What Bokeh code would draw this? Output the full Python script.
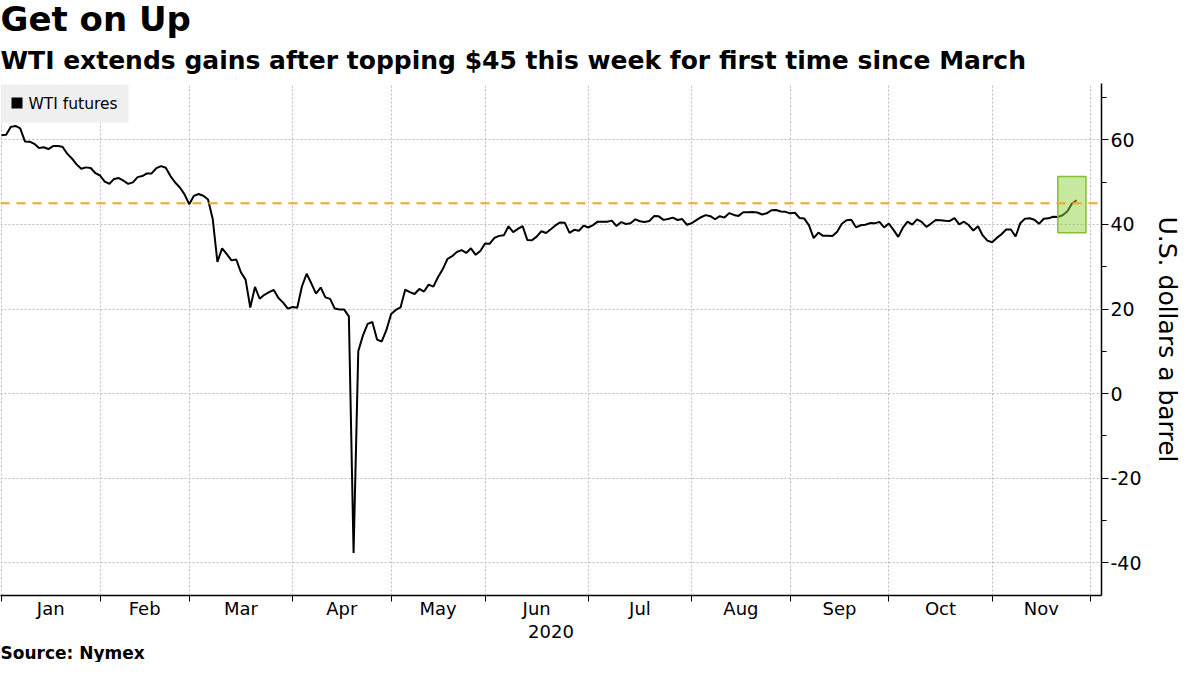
import numpy as np
from bokeh.plotting import figure
from bokeh.models import (Range1d, FixedTicker, Span, BoxAnnotation, Title, Label,
                          CustomJSTickFormatter, PrintfTickFormatter, ColumnDataSource)
from bokeh.embed import file_html
from bokeh.resources import INLINE

# ---------------- data ----------------
title_text = "Get on Up"
subtitle_text = "WTI extends gains after topping $45 this week for first time since March"
source_text = "Source: Nymex"
series_name = "WTI futures"
y_label = "U.S. dollars a barrel"

dates = [
    "2019-12-31",
    "2020-01-02", "2020-01-03", "2020-01-06", "2020-01-07", "2020-01-08", "2020-01-09", "2020-01-10",
    "2020-01-13", "2020-01-14", "2020-01-15", "2020-01-16", "2020-01-17", "2020-01-21", "2020-01-22",
    "2020-01-23", "2020-01-24", "2020-01-27", "2020-01-28", "2020-01-29", "2020-01-30", "2020-01-31",
    "2020-02-03", "2020-02-04", "2020-02-05", "2020-02-06", "2020-02-07", "2020-02-10", "2020-02-11",
    "2020-02-12", "2020-02-13", "2020-02-14", "2020-02-18", "2020-02-19", "2020-02-20", "2020-02-21",
    "2020-02-24", "2020-02-25", "2020-02-26", "2020-02-27", "2020-02-28",
    "2020-03-02", "2020-03-03", "2020-03-04", "2020-03-05", "2020-03-06", "2020-03-09", "2020-03-10",
    "2020-03-11", "2020-03-12", "2020-03-13", "2020-03-16", "2020-03-17", "2020-03-18", "2020-03-19",
    "2020-03-20", "2020-03-23", "2020-03-24", "2020-03-25", "2020-03-26", "2020-03-27", "2020-03-30",
    "2020-03-31",
    "2020-04-01", "2020-04-02", "2020-04-03", "2020-04-06", "2020-04-07", "2020-04-08", "2020-04-09",
    "2020-04-13", "2020-04-14", "2020-04-15", "2020-04-16", "2020-04-17", "2020-04-20", "2020-04-21",
    "2020-04-22", "2020-04-23", "2020-04-24", "2020-04-27", "2020-04-28", "2020-04-29", "2020-04-30",
    "2020-05-01", "2020-05-04", "2020-05-05", "2020-05-06", "2020-05-07", "2020-05-08", "2020-05-11",
    "2020-05-12", "2020-05-13", "2020-05-14", "2020-05-15", "2020-05-18", "2020-05-19", "2020-05-20",
    "2020-05-21", "2020-05-22", "2020-05-26", "2020-05-27", "2020-05-28", "2020-05-29",
    "2020-06-01", "2020-06-02", "2020-06-03", "2020-06-04", "2020-06-05", "2020-06-08", "2020-06-09",
    "2020-06-10", "2020-06-11", "2020-06-12", "2020-06-15", "2020-06-16", "2020-06-17", "2020-06-18",
    "2020-06-19", "2020-06-22", "2020-06-23", "2020-06-24", "2020-06-25", "2020-06-26", "2020-06-29",
    "2020-06-30",
    "2020-07-01", "2020-07-02", "2020-07-06", "2020-07-07", "2020-07-08", "2020-07-09", "2020-07-10",
    "2020-07-13", "2020-07-14", "2020-07-15", "2020-07-16", "2020-07-17", "2020-07-20", "2020-07-21",
    "2020-07-22", "2020-07-23", "2020-07-24", "2020-07-27", "2020-07-28", "2020-07-29", "2020-07-30",
    "2020-07-31",
    "2020-08-03", "2020-08-04", "2020-08-05", "2020-08-06", "2020-08-07", "2020-08-10", "2020-08-11",
    "2020-08-12", "2020-08-13", "2020-08-14", "2020-08-17", "2020-08-18", "2020-08-19", "2020-08-20",
    "2020-08-21", "2020-08-24", "2020-08-25", "2020-08-26", "2020-08-27", "2020-08-28", "2020-08-31",
    "2020-09-01", "2020-09-02", "2020-09-03", "2020-09-04", "2020-09-08", "2020-09-09", "2020-09-10",
    "2020-09-11", "2020-09-14", "2020-09-15", "2020-09-16", "2020-09-17", "2020-09-18", "2020-09-21",
    "2020-09-22", "2020-09-23", "2020-09-24", "2020-09-25", "2020-09-28", "2020-09-29", "2020-09-30",
    "2020-10-01", "2020-10-02", "2020-10-05", "2020-10-06", "2020-10-07", "2020-10-08", "2020-10-09",
    "2020-10-12", "2020-10-13", "2020-10-14", "2020-10-15", "2020-10-16", "2020-10-19", "2020-10-20",
    "2020-10-21", "2020-10-22", "2020-10-23", "2020-10-26", "2020-10-27", "2020-10-28", "2020-10-29",
    "2020-10-30",
    "2020-11-02", "2020-11-03", "2020-11-04", "2020-11-05", "2020-11-06", "2020-11-09", "2020-11-10",
    "2020-11-11", "2020-11-12", "2020-11-13", "2020-11-16", "2020-11-17", "2020-11-18", "2020-11-19",
    "2020-11-20", "2020-11-23", "2020-11-24", "2020-11-25",
]

prices = [
    61.06,
    61.18, 63.05, 63.27, 62.70, 59.61, 59.56, 59.04,
    58.08, 58.23, 57.81, 58.52, 58.54, 58.34, 56.74,
    55.59, 54.19, 53.14, 53.48, 53.33, 52.14, 51.56,
    50.11, 49.61, 50.75, 50.95, 50.32, 49.57, 49.94,
    51.17, 51.42, 52.05, 52.05, 53.29, 53.78, 53.38,
    51.43, 49.90, 48.73, 47.09, 44.76,
    46.75, 47.18, 46.78, 45.90, 41.28, 31.13, 34.36,
    32.98, 31.50, 31.73, 28.70, 26.95, 20.37, 25.22,
    22.43, 23.36, 24.01, 24.49, 22.60, 21.51, 20.09,
    20.48,
    20.31, 25.32, 28.34, 26.08, 23.63, 25.09, 22.76,
    22.41, 20.11, 19.87, 19.87, 18.27, -37.63, 10.01,
    13.78, 16.50, 16.94, 12.78, 12.34, 15.06, 18.84,
    19.78, 20.39, 24.56, 23.99, 23.55, 24.74, 24.14,
    25.78, 25.29, 27.56, 29.43, 31.82, 32.50, 33.49,
    33.92, 33.25, 34.35, 32.81, 33.71, 35.49,
    35.44, 36.81, 37.29, 37.41, 39.55, 38.19, 38.94,
    39.60, 36.34, 36.26, 37.12, 38.38, 37.96, 38.84,
    39.75, 40.46, 40.37, 38.01, 38.72, 38.49, 39.70,
    39.27,
    39.82, 40.65, 40.63, 40.62, 40.90, 39.62, 40.55,
    40.10, 40.29, 41.20, 40.75, 40.59, 40.81, 41.96,
    41.90, 41.07, 41.29, 41.60, 41.04, 41.27, 39.92,
    40.27,
    41.01, 41.70, 42.19, 41.95, 41.22, 41.94, 41.61,
    42.67, 42.24, 42.01, 42.89, 42.89, 42.93, 42.82,
    42.34, 42.62, 43.35, 43.39, 43.04, 42.97, 42.61,
    42.76, 41.51, 41.37, 39.77, 36.76, 38.05, 37.30,
    37.33, 37.26, 38.28, 40.16, 40.97, 41.11, 39.31,
    39.80, 39.93, 40.31, 40.25, 40.60, 39.29, 40.22,
    38.72, 37.05, 39.22, 40.67, 39.95, 41.19, 40.60,
    39.43, 40.20, 41.04, 40.96, 40.88, 40.83, 41.46,
    40.03, 40.64, 39.85, 38.56, 39.57, 37.39, 36.17,
    35.79,
    36.81, 37.66, 38.79, 38.79, 37.14, 40.29, 41.36,
    41.45, 41.12, 40.13, 41.34, 41.43, 41.82, 41.74,
    42.15, 43.06, 44.91, 45.71,
]

month_labels = ["Jan", "Feb", "Mar", "Apr", "May", "Jun", "Jul", "Aug", "Sep", "Oct", "Nov"]
year_label = "2020"
y_ticks = [-40, -20, 0, 20, 40, 60]
y_minor = [-30, -10, 10, 30, 50, 70]
threshold = 45
highlight_from = "2020-11-19"
highlight_low, highlight_high = 38, 51.3
axis_end = "2020-12-01"

# ---------------- derived positions (trading-day axis) ----------------
d = np.array(dates, dtype="datetime64[D]")
x = np.arange(len(d), dtype=float)
mon = d.astype("datetime64[M]")
umon = np.unique(mon)
# boundary = last trading day of each month; last (incomplete) month projected with weekdays
bounds = [float(np.where(mon == m)[0][-1]) for m in umon[:-1]]
bounds.append(float(x[-1] + np.busday_count(d[-1] + 1, np.datetime64(axis_end))))
mids = [(a + b) / 2 for a, b in zip(bounds[:-1], bounds[1:])]

hl_left = float(np.where(d == np.datetime64(highlight_from))[0][0])
hl_right = x[-1] + 2

FONT = "DejaVu Sans"
FRAME_H = 512

p = figure(width=1184, frame_height=FRAME_H, x_range=Range1d(-0.2, bounds[-1] + 2.3),
           y_range=Range1d(-47.7, 73.3), y_axis_location="right",
           output_backend="svg", toolbar_location=None,
           min_border_left=0, min_border_top=0, min_border_bottom=0, min_border_right=0)
p.outline_line_color = None
p.background_fill_color = "white"
p.border_fill_color = "white"

# titles
p.add_layout(Title(text=subtitle_text, text_font=FONT, text_font_style="bold",
                   text_font_size="25px", text_color="black", standoff=17), "above")
p.add_layout(Title(text=title_text, text_font=FONT, text_font_style="bold",
                   text_font_size="34px", text_color="black", standoff=-7), "above")
p.add_layout(Title(text=source_text, text_font=FONT, text_font_style="bold",
                   text_font_size="17px", text_color="black", standoff=0), "below")

# x axis
xa = p.xaxis[0]
xa.ticker = FixedTicker(ticks=mids, minor_ticks=bounds)
xa.formatter = CustomJSTickFormatter(args=dict(pos=mids, names=month_labels), code="""
    let best = 0;
    for (let i = 0; i < pos.length; i++) {
        if (Math.abs(pos[i] - tick) < Math.abs(pos[best] - tick)) best = i;
    }
    return names[best];
""")
xa.major_tick_out = 0
xa.major_tick_in = 0
xa.minor_tick_out = 6
xa.minor_tick_in = 0
xa.minor_tick_line_color = "black"
xa.axis_line_color = "black"
xa.axis_line_width = 1.5
xa.major_label_text_font = FONT
xa.major_label_text_font_size = "18px"
xa.major_label_text_color = "black"
xa.major_label_standoff = -4
xa.axis_label = year_label
xa.axis_label_text_font = FONT
xa.axis_label_text_font_size = "18px"
xa.axis_label_text_font_style = "normal"
xa.axis_label_text_color = "black"
xa.axis_label_standoff = 3

# y axis (right)
ya = p.yaxis[0]
ya.ticker = FixedTicker(ticks=y_ticks, minor_ticks=y_minor)
ya.formatter = PrintfTickFormatter(format="%d")
ya.major_tick_out = 7
ya.major_tick_in = 0
ya.minor_tick_out = 5
ya.minor_tick_in = 0
ya.major_tick_line_color = "black"
ya.minor_tick_line_color = "black"
ya.axis_line_color = "black"
ya.axis_line_width = 1.5
ya.major_label_text_font = FONT
ya.major_label_text_font_size = "19px"
ya.major_label_text_color = "black"
ya.major_label_standoff = 2
ya.axis_label = y_label
ya.axis_label_text_font = FONT
ya.axis_label_text_font_size = "25px"
ya.axis_label_text_font_style = "normal"
ya.axis_label_text_color = "black"
ya.axis_label_standoff = 8

# grids
p.xgrid.grid_line_color = None
p.xgrid.minor_grid_line_color = "#bdbdbd"
p.xgrid.minor_grid_line_dash = "2 2"
p.xgrid.minor_grid_line_width = 1
p.ygrid.grid_line_color = "#bdbdbd"
p.ygrid.grid_line_dash = "2 2"
p.ygrid.grid_line_width = 1

# data line
src = ColumnDataSource(dict(x=x, y=prices))
p.line("x", "y", source=src, line_color="black", line_width=2)

# highlight & threshold
p.add_layout(BoxAnnotation(left=hl_left, right=hl_right, bottom=highlight_low, top=highlight_high,
                           fill_color="#93d13f", fill_alpha=0.5,
                           line_color="#84bf36", line_width=1.5, line_alpha=1))
p.add_layout(Span(location=threshold, dimension="width", line_color="#f2a52a",
                  line_dash="9 7", line_width=2))

# legend box (top-left of the frame, screen units measured from the frame bottom)
p.add_layout(BoxAnnotation(left=0, right=128, top=FRAME_H - 1, bottom=FRAME_H - 39,
                           left_units="screen", right_units="screen",
                           top_units="screen", bottom_units="screen",
                           fill_color="#efefef", fill_alpha=1, line_color=None, level="overlay"))
p.add_layout(BoxAnnotation(left=11, right=22, top=FRAME_H - 14, bottom=FRAME_H - 25,
                           left_units="screen", right_units="screen",
                           top_units="screen", bottom_units="screen",
                           fill_color="black", fill_alpha=1, line_color=None, level="overlay"))
p.add_layout(Label(x=28, y=FRAME_H - 20, x_units="screen", y_units="screen", text=series_name,
                   text_font=FONT, text_font_size="15.5px", text_color="black",
                   text_baseline="middle", text_align="left", level="overlay"))

open("out.html", "w").write(file_html(p, INLINE))
